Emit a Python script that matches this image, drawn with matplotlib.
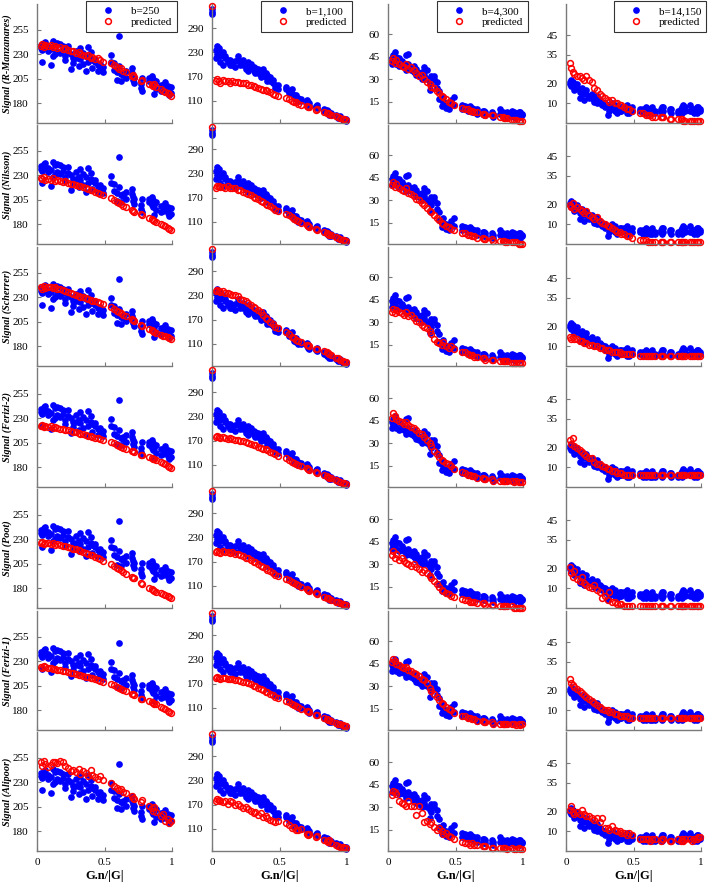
import matplotlib.pyplot as plt
import numpy as np

plt.rcParams['font.family'] = ['Liberation Serif', 'DejaVu Serif']

models = ["R-Manzanares", "Nilsson", "Scherrer", "Ferizi-2", "Poot", "Ferizi-1", "Alipoor"]
b_labels = ["b=250", "b=1,100", "b=4,300", "b=14,150"]

# gradient direction values G.n/|G|
gn = [0.03, 0.04, 0.05, 0.06, 0.08, 0.10, 0.12, 0.13, 0.15, 0.17,
      0.19, 0.21, 0.23, 0.25, 0.27, 0.29, 0.31, 0.32, 0.34, 0.36,
      0.38, 0.40, 0.41, 0.43, 0.45, 0.47, 0.49, 0.55, 0.57, 0.59,
      0.61, 0.62, 0.64, 0.66, 0.70, 0.71, 0.72, 0.77, 0.78, 0.83,
      0.85, 0.86, 0.87, 0.88, 0.92, 0.93, 0.95, 0.97, 0.98, 0.99]

# measured signal (two repeats per column)
meas_250_a = [236, 222, 241, 238, 237, 219, 243, 230, 241, 240,
              234, 228, 238, 215, 221, 226, 218, 236, 220, 213,
              237, 226, 216, 222, 213, 220, 217, 229, 221, 204,
              248, 210, 211, 213, 216, 208, 201, 196, 206, 206,
              200, 205, 189, 203, 199, 194, 202, 198, 188, 197]
meas_250_b = [239, 234, 237, 242, 233, 235, 228, 240, 233, 231,
              238, 224, 232, 230, 226, 233, 228, 225, 231, 228,
              222, 232, 224, 225, 219, 215, 212, 222, 214, 212,
              218, 203, 209, 206, 211, 204, 206, 200, 193, 203,
              208, 198, 200, 195, 193, 199, 197, 192, 196, 190]
meas_1100_a = [215, 225, 240, 205, 230, 215, 205, 210, 200, 208,
               222, 205, 200, 190, 205, 195, 185, 192, 180, 175,
               190, 170, 175, 160, 155, 150, 140, 140, 130, 128,
               125, 115, 118, 110, 105, 100, 98, 95, 92, 85,
               80, 82, 78, 76, 72, 70, 68, 65, 62, 60]
meas_1100_b = [235, 245, 228, 220, 200, 222, 212, 198, 205, 195,
               210, 198, 212, 200, 185, 202, 195, 180, 188, 170,
               180, 178, 160, 168, 162, 142, 148, 145, 135, 140,
               118, 125, 110, 115, 112, 108, 104, 98, 100, 90,
               88, 85, 75, 80, 75, 68, 72, 62, 66, 64]
meas_4300_a = [44, 42, 48, 40, 44, 41, 39, 36, 47, 38,
               39, 33, 32, 35, 38, 30, 23, 32, 32, 28,
               17, 12, 15, 11, 12, 14, 18, 13, 12, 10,
               9, 11, 8, 10, 7, 9, 6, 8, 7, 10,
               8, 6, 7, 5, 6, 8, 7, 6, 8, 7]
meas_4300_b = [40, 46, 43, 45, 39, 42, 40, 46, 40, 36,
               35, 37, 34, 30, 33, 36, 28, 27, 30, 24,
               22, 16, 18, 14, 10, 16, 13, 10, 11, 9,
               12, 8, 10, 7, 9, 6, 8, 6, 5, 7,
               6, 7, 5, 8, 9, 5, 6, 8, 5, 6]
meas_14150_a = [21, 22, 19, 20, 18, 13, 18, 16, 15, 14,
                13, 11, 14, 10, 9, 10, 4, 8, 10, 6,
                7, 8, 6, 8, 5, 7, 6, 6, 7, 5,
                6, 7, 5, 6, 7, 8, 6, 6, 7, 5,
                7, 8, 9, 6, 6, 7, 5, 8, 6, 7]
meas_14150_b = [20, 19, 21, 17, 20, 16, 15, 12, 17, 13,
                15, 12, 10, 12, 11, 8, 9, 6, 7, 9,
                5, 6, 8, 7, 9, 5, 8, 7, 5, 8,
                7, 5, 8, 5, 6, 5, 8, 7, 5, 6,
                6, 5, 7, 8, 9, 6, 7, 5, 8, 6]

# b=0 points drawn at G.n/|G| = 0 in the b=1,100 column
b0_meas = [337, 331, 325]
b0_pred = [346, 346, 344, 345, 346, 345, 344]

# predicted signal, one list per model (rows in order of `models`)
pred_250 = [
    [238, 240, 237, 239, 238, 239, 237, 238, 236, 237, 235, 236, 234, 233, 233, 231, 232, 230, 229, 228,
     229, 226, 227, 225, 226, 224, 222, 221, 219, 217, 215, 216, 213, 212, 208, 209, 207, 203, 204, 200,
     199, 198, 200, 197, 195, 193, 192, 190, 189, 187],
    [227, 226, 228, 225, 226, 225, 227, 224, 225, 224, 223, 224, 222, 221, 221, 220, 219, 219, 218, 217,
     216, 215, 215, 213, 212, 211, 210, 207, 205, 203, 202, 201, 199, 198, 195, 194, 193, 190, 189, 186,
     185, 184, 183, 182, 180, 179, 178, 176, 175, 174],
    [240, 238, 241, 239, 240, 240, 239, 240, 238, 238, 237, 236, 235, 234, 233, 232, 231, 230, 230, 229,
     228, 227, 226, 226, 225, 224, 223, 220, 218, 216, 215, 214, 212, 211, 208, 207, 206, 202, 201, 198,
     197, 196, 195, 194, 192, 191, 190, 189, 188, 187],
    [222, 223, 221, 222, 221, 222, 220, 221, 220, 219, 219, 218, 218, 217, 216, 216, 215, 214, 214, 213,
     212, 212, 211, 210, 210, 209, 208, 206, 205, 203, 202, 201, 200, 199, 197, 197, 196, 193, 193, 190,
     189, 188, 188, 187, 185, 184, 183, 181, 180, 179],
    [226, 227, 225, 226, 226, 225, 226, 224, 225, 224, 223, 223, 222, 221, 220, 220, 219, 218, 217, 216,
     215, 214, 214, 212, 211, 210, 208, 205, 203, 201, 200, 199, 197, 195, 192, 191, 190, 185, 184, 180,
     179, 178, 177, 176, 175, 174, 173, 172, 171, 170],
    [224, 223, 225, 224, 223, 223, 222, 222, 221, 221, 220, 220, 219, 218, 218, 217, 216, 216, 215, 214,
     214, 213, 213, 212, 211, 210, 209, 207, 206, 204, 203, 202, 201, 200, 197, 197, 196, 192, 192, 189,
     188, 187, 186, 186, 183, 182, 181, 179, 178, 177],
    [250, 246, 252, 248, 245, 247, 250, 251, 249, 252, 250, 246, 244, 241, 242, 240, 243, 238, 241, 239,
     236, 242, 237, 235, 233, 236, 232, 229, 226, 224, 222, 223, 220, 219, 216, 214, 213, 210, 212, 206,
     204, 201, 205, 200, 196, 198, 191, 193, 188, 190],
]
pred_1100 = [
    [158, 165, 160, 155, 162, 160, 158, 155, 159, 157, 156, 155, 153, 154, 150, 148, 147, 145, 143, 140,
     138, 136, 135, 132, 128, 125, 122, 118, 115, 110, 108, 106, 103, 100, 96, 95, 94, 88, 90, 82,
     80, 79, 77, 76, 72, 70, 68, 66, 64, 63],
    [195, 198, 200, 196, 197, 195, 198, 194, 195, 193, 190, 188, 185, 182, 180, 176, 172, 170, 166, 162,
     160, 155, 152, 150, 145, 140, 136, 130, 126, 122, 118, 115, 112, 108, 102, 100, 98, 92, 90, 84,
     82, 80, 78, 77, 72, 70, 68, 66, 64, 63],
    [240, 244, 242, 238, 240, 236, 236, 233, 232, 230, 228, 222, 218, 215, 210, 206, 202, 200, 195, 190,
     182, 175, 172, 165, 160, 152, 148, 140, 135, 128, 125, 120, 118, 115, 108, 106, 104, 98, 96, 92,
     90, 86, 84, 82, 75, 74, 70, 68, 66, 64],
    [178, 182, 180, 176, 179, 177, 175, 176, 174, 172, 172, 170, 168, 166, 165, 162, 160, 158, 155, 152,
     150, 148, 146, 143, 140, 136, 132, 126, 122, 118, 115, 113, 110, 106, 102, 100, 98, 92, 90, 84,
     82, 80, 78, 77, 72, 70, 68, 66, 64, 63],
    [193, 197, 195, 192, 196, 194, 195, 192, 193, 190, 188, 186, 183, 180, 178, 174, 170, 168, 165, 160,
     157, 153, 150, 147, 142, 138, 134, 128, 124, 120, 117, 114, 111, 107, 101, 99, 97, 91, 89, 83,
     81, 79, 77, 76, 71, 69, 67, 65, 63, 62],
    [183, 187, 185, 182, 184, 183, 182, 181, 182, 180, 178, 177, 175, 173, 171, 168, 165, 163, 160, 156,
     153, 150, 148, 145, 142, 138, 134, 128, 124, 120, 117, 115, 112, 108, 103, 101, 99, 93, 91, 85,
     83, 81, 79, 78, 73, 71, 69, 67, 65, 64],
    [178, 184, 182, 180, 176, 180, 172, 178, 176, 170, 172, 166, 162, 165, 158, 155, 150, 152, 145, 148,
     140, 142, 138, 132, 130, 128, 130, 124, 120, 112, 115, 108, 106, 110, 96, 94, 98, 90, 92, 82,
     80, 78, 82, 76, 70, 68, 66, 64, 63, 62],
]
pred_4300 = [
    [42, 44, 41, 43, 40, 39, 38, 40, 37, 38, 36, 34, 32, 33, 30, 28, 27, 25, 24, 22,
     21, 19, 18, 17, 15, 14, 13, 11, 10, 10, 9, 9, 8, 8, 7, 7, 6, 6, 6, 5,
     5, 4, 4, 4, 3, 3, 3, 2, 2, 2],
    [40, 42, 39, 41, 38, 37, 36, 38, 35, 34, 33, 31, 30, 28, 27, 25, 23, 22, 20, 18,
     17, 15, 14, 13, 12, 11, 10, 8, 8, 7, 7, 6, 6, 5, 5, 4, 4, 4, 3, 3,
     3, 3, 2, 2, 2, 2, 2, 1, 1, 1],
    [37, 39, 36, 38, 37, 36, 35, 37, 34, 35, 33, 31, 30, 28, 27, 26, 24, 22, 19, 17,
     16, 15, 17, 14, 13, 14, 12, 10, 10, 9, 8, 8, 7, 7, 6, 6, 5, 5, 5, 4,
     4, 4, 4, 4, 3, 3, 3, 3, 3, 3],
    [47, 50, 48, 46, 45, 44, 43, 44, 42, 41, 40, 39, 37, 36, 34, 32, 30, 28, 25, 23,
     21, 19, 18, 17, 16, 15, 13, 11, 10, 9, 9, 8, 8, 7, 7, 6, 6, 6, 5, 5,
     5, 5, 5, 5, 5, 4, 5, 4, 4, 4],
    [36, 39, 34, 37, 33, 34, 32, 31, 30, 29, 30, 28, 27, 25, 26, 24, 22, 21, 19, 17,
     15, 13, 12, 11, 10, 9, 8, 7, 6, 6, 5, 5, 5, 4, 4, 4, 3, 3, 3, 2,
     2, 2, 2, 2, 2, 1, 1, 1, 1, 1],
    [46, 48, 47, 45, 44, 43, 42, 43, 41, 40, 39, 38, 37, 35, 34, 32, 29, 27, 25, 23,
     21, 19, 18, 16, 15, 14, 12, 10, 10, 9, 9, 8, 8, 7, 7, 6, 6, 6, 5, 5,
     5, 5, 5, 5, 5, 5, 4, 5, 4, 5],
    [38, 41, 40, 39, 34, 33, 32, 31, 34, 31, 31, 25, 31, 26, 20, 21, 19, 20, 17, 15,
     16, 14, 12, 13, 11, 10, 9, 7, 6, 6, 5, 6, 5, 5, 4, 4, 4, 3, 3, 3,
     3, 3, 3, 2, 3, 2, 2, 3, 2, 2],
]
pred_14150 = [
    [31, 28, 26, 25, 24, 24, 23, 22, 24, 22, 21, 18, 17, 15, 14, 13, 12, 11, 12, 10,
     10, 9, 9, 8, 7, 7, 6, 5, 5, 4, 4, 4, 3, 3, 3, 3, 3, 2, 2, 2,
     2, 2, 1, 1, 1, 1, 1, 1, 1, 1],
    [20, 19, 21, 18, 19, 18, 17, 16, 17, 15, 14, 13, 14, 12, 11, 10, 9, 9, 8, 7,
     6, 6, 5, 5, 4, 4, 3, 2, 2, 2, 1, 1, 1, 1, 1, 1, 1, 1, 1, 1,
     1, 1, 1, 1, 1, 1, 1, 1, 1, 1],
    [15, 14, 15, 14, 14, 13, 13, 12, 12, 11, 11, 10, 10, 9, 9, 8, 8, 8, 7, 7,
     7, 7, 6, 6, 6, 6, 6, 5, 5, 5, 5, 5, 5, 5, 5, 5, 5, 5, 5, 5,
     5, 5, 5, 5, 5, 5, 5, 5, 5, 5],
    [24, 22, 25, 21, 20, 19, 18, 17, 16, 15, 15, 13, 12, 12, 11, 10, 9, 9, 8, 8,
     7, 7, 7, 6, 6, 6, 6, 6, 6, 6, 6, 6, 6, 6, 6, 6, 6, 6, 6, 6,
     6, 6, 6, 6, 6, 6, 6, 6, 6, 6],
    [21, 18, 16, 19, 15, 14, 16, 13, 12, 11, 10, 12, 9, 8, 5, 6, 4, 8, 3, 3,
     2, 2, 2, 1, 1, 1, 1, 1, 1, 1, 1, 1, 1, 1, 1, 1, 1, 1, 1, 1,
     1, 1, 1, 1, 1, 1, 1, 1, 1, 1],
    [26, 24, 23, 22, 21, 20, 19, 18, 17, 16, 15, 14, 13, 12, 11, 10, 10, 9, 9, 8,
     8, 7, 7, 7, 7, 6, 6, 6, 6, 6, 6, 6, 6, 6, 6, 6, 6, 6, 6, 6,
     6, 6, 6, 6, 6, 6, 6, 6, 6, 6],
    [21, 23, 20, 19, 20, 19, 21, 19, 18, 18, 17, 16, 17, 15, 17, 12, 12, 11, 13, 11,
     10, 10, 9, 9, 8, 9, 8, 6, 6, 6, 6, 5, 6, 6, 5, 6, 6, 5, 5, 6,
     5, 6, 5, 6, 6, 5, 6, 6, 7, 7],
]

meas_a = [meas_250_a, meas_1100_a, meas_4300_a, meas_14150_a]
meas_b = [meas_250_b, meas_1100_b, meas_4300_b, meas_14150_b]
preds = [pred_250, pred_1100, pred_4300, pred_14150]

ylims = [(160, 281), (55, 350), (1, 80), (0, 61)]
yticks = [[180, 205, 230, 255], [110, 170, 230, 290], [15, 30, 45, 60], [10, 20, 35, 45]]

W, H = 709, 886
fig = plt.figure(figsize=(W / 100, H / 100), dpi=100)

col_left = [37, 212, 388, 566]
row_bottom = [123, 244, 366, 487, 608, 730, 851]
ax_w, ax_h = 135, 119
gray = '#7a7a7a'

for r in range(7):
    for c in range(4):
        ax = fig.add_axes([col_left[c] / W, 1 - row_bottom[r] / H, ax_w / W, ax_h / H])
        ax.patch.set_visible(False)

        ax.plot(gn, meas_a[c], 'o', color='blue', ms=3.8, clip_on=False, label=b_labels[c])
        ax.plot(gn, meas_b[c], 'o', color='blue', ms=3.8, clip_on=False)
        ax.plot(gn, preds[c][r], 'o', mfc='none', mec='red', ms=4.2, mew=1.1,
                clip_on=False, label='predicted')
        if c == 1:
            ax.plot([0] * len(b0_meas), b0_meas, 'o', color='blue', ms=3.8, clip_on=False)
            ax.plot([0], [b0_pred[r]], 'o', mfc='none', mec='red', ms=4.2, mew=1.1, clip_on=False)

        ax.set_xlim(0, 1)
        ax.set_ylim(*ylims[c])
        ax.set_yticks(yticks[c])
        ax.set_xticks([0, 0.5, 1])
        ax.set_xticklabels(['0', '0.5', '1'])

        for s in ['top', 'right']:
            ax.spines[s].set_visible(False)
        for s in ['left', 'bottom']:
            ax.spines[s].set_color(gray)
            ax.spines[s].set_linewidth(1.0)

        ax.tick_params(direction='in', length=3, width=0.8, color=gray,
                       labelsize=8, labelcolor='black')
        ax.tick_params(axis='y', pad=6)
        ax.tick_params(axis='x', pad=5)

        if r < 6:
            ax.tick_params(axis='x', labelbottom=False)
        else:
            ax.set_xlabel('G.n/|G|', fontsize=9, fontweight='bold', labelpad=2)

        if r == 0:
            leg = ax.legend(loc='upper right', bbox_to_anchor=(1.04, 1.025), borderaxespad=0,
                            fontsize=8, frameon=True, fancybox=False, edgecolor='black',
                            handlelength=3.0, handletextpad=0.6, borderpad=0.45,
                            labelspacing=0.15)
            leg.get_frame().set_linewidth(0.8)

    yc = row_bottom[r] - ax_h / 2
    fig.text(7 / W, 1 - yc / H, 'Signal (%s)' % models[r], rotation=90,
             ha='center', va='center', fontsize=7.3, fontweight='bold', fontstyle='italic')

fig.savefig('out.png', dpi=100)
